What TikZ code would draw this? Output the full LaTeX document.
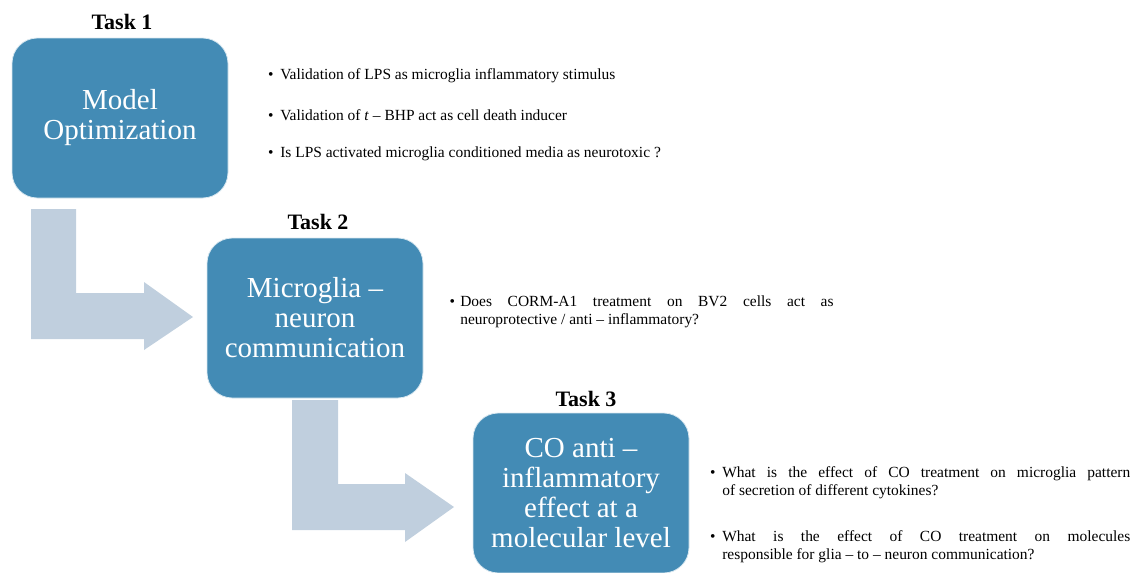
\documentclass[tikz,border=0pt]{standalone}
\usepackage{fontspec}
\setmainfont{LiberationSerif}[Extension=.ttf, UprightFont=*-Regular, BoldFont=*-Bold, ItalicFont=*-Italic, BoldItalicFont=*-BoldItalic]

\definecolor{taskblue}{RGB}{67,139,181}
\definecolor{flowgray}{RGB}{192,207,222}

\tikzset{
  taskbox/.style={rounded corners=19pt, fill=taskblue, draw=white!80!taskblue, line width=0.6pt,
    minimum width=162pt, minimum height=120pt, inner sep=0pt, text=white, align=center,
    font=\fontsize{21.75}{22.5}\selectfont},
  tasklabel/.style={font=\fontsize{16.5}{18}\selectfont\bfseries},
  point/.style={anchor=west, inner sep=0pt, font=\fontsize{11.6}{13.5}\selectfont},
}

\begin{document}
\begin{tikzpicture}[x=0.75pt,y=0.75pt,yscale=-1,xscale=1]
\useasboundingbox (0,0) rectangle (1138,572);

% flow arrows
\fill [flowgray] (31,209) -- (76,209) -- (76,293) -- (144,293) -- (144,282) -- (193,317) -- (144,350) -- (144,339) -- (31,339) -- cycle;
\fill [flowgray] (292,400) -- (338,400) -- (338,484) -- (405,484) -- (405,473) -- (454,507) -- (405,542) -- (405,530) -- (292,530) -- cycle;

% task 1
\node [tasklabel] (label1) at (122,22) {Task 1};
\node [taskbox] (task1) at (120,118) {Model\\Optimization};
\node [point] (point1a) at (280,76) {\llap{\textbullet\hspace{5pt}}Validation of LPS as microglia inflammatory stimulus};
\node [point] (point1b) at (280,115) {\llap{\textbullet\hspace{5pt}}Validation of \textit{t} -- BHP act as cell death inducer};
\node [point] (point1c) at (280,154) {\llap{\textbullet\hspace{5pt}}Is LPS activated microglia conditioned media as neurotoxic ?};

% task 2
\node [tasklabel] (label2) at (318,222) {Task 2};
\node [taskbox] (task2) at (315,318) {Microglia --\\neuron\\communication};
\node [point, text width=280pt, align=justify] (point2a) at (460,312)
  {\llap{\textbullet\hspace{4pt}}Does CORM-A1 treatment on BV2 cells act as\linebreak neuroprotective / anti -- inflammatory?};

% task 3
\node [tasklabel] (label3) at (586,399) {Task 3};
\node [taskbox] (task3) at (581,493) {CO anti --\\inflammatory\\effect at a\\molecular level};
\node [point, text width=306pt, align=justify] (point3a) at (722,482.5)
  {\llap{\textbullet\hspace{5pt}}What is the effect of CO treatment on microglia pattern\linebreak of secretion of different cytokines?};
\node [point, text width=306pt, align=justify] (point3b) at (722,547)
  {\llap{\textbullet\hspace{5pt}}What is the effect of CO treatment on molecules\linebreak responsible for glia -- to -- neuron communication?};

\end{tikzpicture}
\end{document}
